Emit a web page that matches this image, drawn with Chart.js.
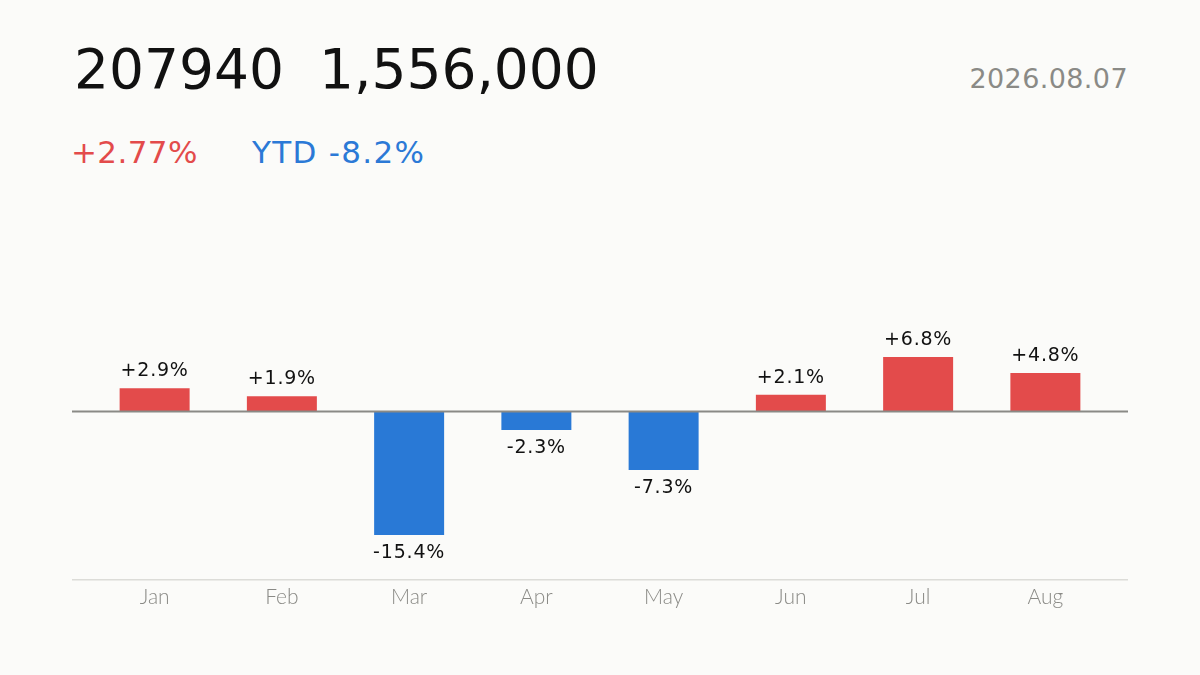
<!DOCTYPE html>
<html>
<head>
<meta charset="utf-8">
<script src="https://cdn.jsdelivr.net/npm/chart.js@4.4.1/dist/chart.umd.min.js"></script>
<style>
  html, body { margin: 0; padding: 0; background: #fbfbf9; }
  body { width: 1200px; height: 675px; position: relative; overflow: hidden;
         font-family: "DejaVu Sans", sans-serif; }
  #wrap { position: absolute; left: 0; top: 0; width: 1200px; height: 675px; }
  .title { position: absolute; left: 74px; top: 42px; font-size: 55px; line-height: 1; color: #111; white-space: pre; }
  .date { position: absolute; right: 72px; top: 65px; font-size: 27px; line-height: 1; color: #8a8a86; letter-spacing: 0.4px; }
  .chg { position: absolute; top: 137px; font-size: 31px; line-height: 1; white-space: pre; }
</style>
</head>
<body>
<div class="title" id="title"></div>
<div class="date" id="date"></div>
<div class="chg" id="dayChg" style="left:71px;color:#e34b4b;letter-spacing:0.4px"></div>
<div class="chg" id="ytdChg" style="left:252px;color:#2b79d6;letter-spacing:1.3px"></div>
<div id="wrap"><canvas id="myChart" width="1200" height="675"></canvas></div>
<script>
const code = '207940'
const price = '1,556,000'
const dateText = '2026.08.07'
const dayChange = '+2.77%'
const ytdChange = 'YTD -8.2%'

const months = ['Jan', 'Feb', 'Mar', 'Apr', 'May', 'Jun', 'Jul', 'Aug'];
const monthlyReturns = [2.9, 1.9, -15.4, -2.3, -7.3, 2.1, 6.8, 4.8];

const red = '#e34b4b';
const blue = '#2979d6';

document.getElementById('title').textContent = code + '  ' + price;
document.getElementById('date').textContent = dateText;
document.getElementById('dayChg').textContent = dayChange;
document.getElementById('ytdChg').textContent = ytdChange;

// zero line + bottom line, wider than the plot area
const baseLines = {
  id: 'baseLines',
  beforeDatasetsDraw(chart) {
    const ctx = chart.ctx;
    ctx.save();
    ctx.strokeStyle = '#dcdcd8';
    ctx.lineWidth = 1.5;
    ctx.beginPath();
    ctx.moveTo(72, chart.chartArea.bottom);
    ctx.lineTo(1128, chart.chartArea.bottom);
    ctx.stroke();
    ctx.restore();
  },
  afterDatasetsDraw(chart) {
    const ctx = chart.ctx;
    const y0 = chart.scales.y.getPixelForValue(0);
    ctx.save();
    ctx.strokeStyle = '#8a8a86';
    ctx.lineWidth = 2;
    ctx.beginPath();
    ctx.moveTo(72, y0);
    ctx.lineTo(1128, y0);
    ctx.stroke();
    ctx.restore();
  }
};

const valueLabels = {
  id: 'valueLabels',
  afterDatasetsDraw(chart) {
    const ctx = chart.ctx;
    const meta = chart.getDatasetMeta(0);
    ctx.save();
    ctx.font = '19px "DejaVu Sans", sans-serif';
    ctx.letterSpacing = '0.8px';
    ctx.fillStyle = '#111';
    ctx.textAlign = 'center';
    ctx.textBaseline = 'alphabetic';
    meta.data.forEach((bar, i) => {
      const v = monthlyReturns[i];
      const txt = (v > 0 ? '+' : '') + v.toFixed(1) + '%';
      if (v >= 0) {
        ctx.fillText(txt, bar.x, bar.y - 12);
      } else {
        ctx.fillText(txt, bar.x, bar.y + 23);
      }
    });
    ctx.restore();
  }
};

new Chart(document.getElementById('myChart').getContext('2d'), {
  type: 'bar',
  data: {
    labels: months,
    datasets: [{
      data: monthlyReturns,
      backgroundColor: monthlyReturns.map(v => v >= 0 ? red : blue),
      borderWidth: 0,
      barPercentage: 0.55,
      categoryPercentage: 1
    }]
  },
  options: {
    responsive: false,
    animation: false,
    devicePixelRatio: 1,
    layout: { padding: { left: 91, right: 91, top: 200, bottom: 60 } },
    plugins: { legend: { display: false }, tooltip: { enabled: false } },
    scales: {
      x: {
        grid: { display: false, drawTicks: false },
        border: { display: false },
        ticks: { color: '#8a8a86', padding: 5, font: { size: 21, family: 'Lato', weight: 300 } }
      },
      y: {
        display: false,
        min: -21,
        max: 26.4
      }
    }
  },
  plugins: [baseLines, valueLabels]
});
</script>
</body>
</html>
